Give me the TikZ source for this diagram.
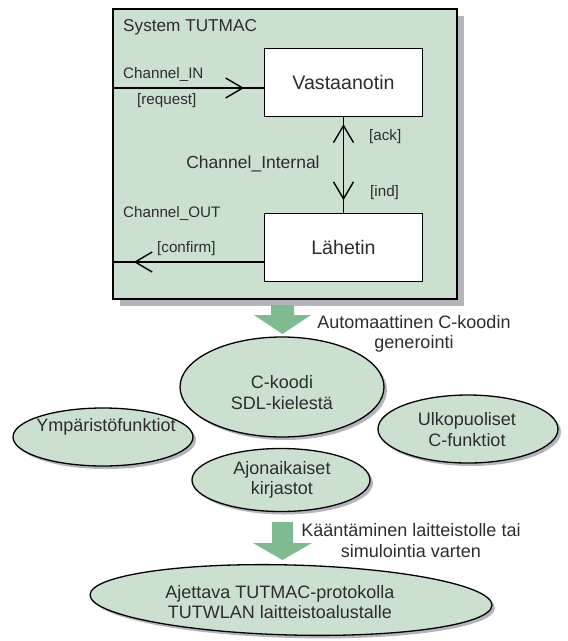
\documentclass[tikz,border=0pt]{standalone}
\usepackage{fontspec}
\setmainfont{Liberation Sans}
\usetikzlibrary{shapes.geometric,arrows.meta,decorations.markings,shadows}
\definecolor{boxfill}{RGB}{204,224,208}
\definecolor{shadowgray}{RGB}{180,180,188}
\definecolor{arrowgreen}{RGB}{128,186,145}
\definecolor{txtc}{RGB}{45,45,45}
\begin{document}
\begin{tikzpicture}[x=1pt,y=-1pt,
  lbl/.style={text=txtc,inner sep=0pt,font=\fontsize{15.2}{18}\selectfont},
  big/.style={text=txtc,inner sep=0pt,font=\fontsize{18}{21}\selectfont},
  blk/.style={draw=black,line width=1.4pt,fill=white,minimum width=158pt,minimum height=68pt,inner sep=0pt,font=\fontsize{19.6}{22}\selectfont,text=txtc},
  ell/.style={ellipse,draw=black,line width=1.3pt,fill=boxfill,inner sep=0pt,
    drop shadow={shadow xshift=3pt,shadow yshift=-3pt,fill=shadowgray,opacity=1,draw=none}},
  sysbox/.style={draw=black,line width=1.5pt,fill=boxfill,inner sep=0pt,
    drop shadow={shadow xshift=7pt,shadow yshift=-7pt,fill=shadowgray,opacity=1,draw=none}},
  fat/.style={fill=arrowgreen,draw=none},
  conn/.style={line width=1.4pt,draw=black},
  vtip/.style={Straight Barb[length=17pt,width=20pt]},
  markfwd/.style={postaction={decorate,decoration={markings,mark=at position #1 with {\arrow{Straight Barb[length=17pt,width=20pt]}}}}},
  markback/.style={postaction={decorate,decoration={markings,mark=at position #1 with {\arrowreversed{Straight Barb[length=17pt,width=20pt]}}}}}
]
\useasboundingbox (0,0) rectangle (568,641);
\fill[white] (0,0) rectangle (568,641);

% system box
\node[sysbox,minimum width=344pt,minimum height=290pt,anchor=north west] (sys) at (112,8) {};
\node[lbl,anchor=base west,font=\fontsize{17.2}{20}\selectfont] (sysT) at (123,31) {System TUTMAC};

\node[blk] (vast) at (343.5,82.5) {Vastaanotin};
\node[blk] (lah) at (343.5,247.5) {Lähetin};

\coordinate (inL) at (112,88);
\coordinate (outL) at (112,262);
\draw[conn,markfwd=132pt] (inL) -- (vast.west |- inL);
\draw[conn,markback=7pt,markfwd=83pt] (vast.south) -- (lah.north);
\draw[conn,markfwd=130pt] (lah.west |- outL) -- (outL);

\node[lbl,anchor=base west] (cin) at (123,78) {Channel\_IN};
\node[lbl,anchor=base west] (req) at (137,104) {[request]};
\node[lbl,anchor=base west] (ack) at (369,140) {[ack]};
\node[lbl,anchor=base west] (ind) at (370,196) {[ind]};
\node[lbl,anchor=base,font=\fontsize{17.5}{20}\selectfont] (cint) at (253,168) {Channel\_Internal};
\node[lbl,anchor=base west] (cout) at (123,217) {Channel\_OUT};
\node[lbl,anchor=base west] (conf) at (157,252) {[confirm]};

% ellipses
\node[ell,minimum width=204pt,minimum height=100pt] (ckoodi) at (282,387) {};
\node[ell,minimum width=180pt,minimum height=58pt] (ymp) at (103,437) {};
\node[ell,minimum width=180pt,minimum height=68pt] (ulk) at (468,429) {};
\node[ell,minimum width=178pt,minimum height=63pt] (ajo) at (281,480) {};
\node[ell,minimum width=402pt,minimum height=70pt,rotate=-1.5] (ajet) at (291,600) {};

% block arrows
\fill[fat] (271,305) -- (294,305) -- (294,315) -- (311,315) -- (282.5,334) -- (254,315) -- (271,315) -- cycle;
\fill[fat] (272,522) -- (293,522) -- (293,543) -- (312,543) -- (282.5,560) -- (253,543) -- (272,543) -- cycle;

% texts
\node[big,anchor=base] (t1a) at (414,328) {Automaattinen C-koodin};
\node[big,anchor=base] (t1b) at (414,348) {generointi};
\node[big,anchor=base] (ck1) at (282,388) {C-koodi};
\node[big,anchor=base] (ck2) at (282,409) {SDL-kielestä};
\node[big,anchor=base] (ym1) at (106,431) {Ympäristöfunktiot};
\node[big,anchor=base] (ul1) at (467,425) {Ulkopuoliset};
\node[big,anchor=base] (ul2) at (467,446) {C-funktiot};
\node[big,anchor=base] (aj1) at (282,474) {Ajonaikaiset};
\node[big,anchor=base] (aj2) at (282,494) {kirjastot};
\node[big,anchor=base] (k1) at (411,536) {Kääntäminen laitteistolle tai};
\node[big,anchor=base] (k2) at (411,557) {simulointia varten};
\node[big,anchor=base] (e1) at (280,598) {Ajettava TUTMAC-protokolla};
\node[big,anchor=base] (e2) at (280,618) {TUTWLAN laitteistoalustalle};
\end{tikzpicture}
\end{document}
